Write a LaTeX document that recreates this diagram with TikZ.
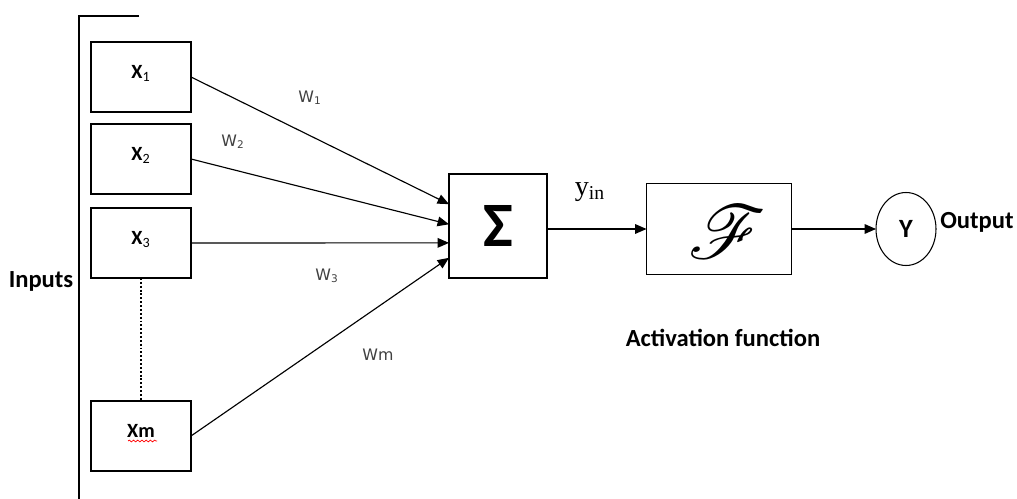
\documentclass[tikz,border=0pt]{standalone}
\usepackage{fontspec}
\setmainfont{Carlito}
\newfontfamily\wfont{DejaVu Sans}
\newfontfamily\timesfont{Liberation Serif}
\usepackage{mathrsfs}
\usetikzlibrary{positioning, arrows.meta, shapes.geometric, decorations.pathmorphing}

\tikzset{
  inbox/.style={draw, line width=0.75pt, minimum width=2cm, minimum height=1.4cm,
    inner sep=0pt, outer sep=0pt, text depth=6pt, font=\fontsize{11.5}{13}\selectfont\bfseries},
  sumbox/.style={draw, line width=0.75pt, minimum width=1.96cm, minimum height=2.08cm,
    inner sep=0pt, outer sep=0pt},
  actbox/.style={draw, line width=0.75pt, minimum width=2.9cm, minimum height=1.82cm,
    inner sep=0pt, outer sep=0pt},
  outcirc/.style={draw, ellipse, line width=0.6pt, minimum width=1.2cm, minimum height=1.46cm,
    inner sep=0pt, outer sep=0pt, font=\fontsize{15}{17}\selectfont\bfseries},
  wire/.style={line width=0.65pt},
  dotline/.style={line width=1.2pt, dash pattern=on 1.1pt off 1.1pt},
  weight/.style={font=\wfont\fontsize{9}{11}\selectfont, text=black!75},
  bigtext/.style={font=\fontsize{14}{16}\selectfont\bfseries}
}

\begin{document}
\begin{tikzpicture}[x=0.02cm, y=-0.02cm, >={Triangle[length=6.5pt, width=5.5pt]}]
  \useasboundingbox (0,0) rectangle (1017,499);

  % bracket round the inputs
  \draw[line width=0.75pt] (139,16) -- (79,16) -- (79,499);
  \node[bigtext] (inputs) at (41,281) {Inputs};

  % input boxes
  \node[inbox] (x1) at (141,77) {X\textsubscript{\mdseries 1}};
  \node[inbox] (x2) at (141,159) {X\textsubscript{\mdseries 2}};
  \node[inbox] (x3) at (141,243) {X\textsubscript{\mdseries 3}};
  \node[inbox] (xm) at (141,436) {Xm};
  \draw[dotline] (x3.south) -- (xm.north);
  \draw[red, line width=0.4pt, decorate,
    decoration={snake, amplitude=0.5pt, segment length=2.4pt}] (128,441) -- (157,441);

  % summing junction
  \node[sumbox] (sum) at (498,226) {\fontsize{36}{40}\selectfont\bfseries Σ};

  % weighted inputs
  \draw[wire, ->] (x1.east) -- (sum.156);
  \draw[wire, ->] (x2.east) -- (sum.178);
  \draw[wire, ->] (x3.east) -- (sum.199);
  \draw[wire, ->] (xm.east) -- (sum.213);

  % weight labels
  \node[weight] (w1) at (310,98) {W\textsubscript{1}};
  \node[weight] (w2) at (233,142) {W\textsubscript{2}};
  \node[weight] (w3) at (327,276) {W\textsubscript{3}};
  \node[weight] (wm) at (378,355) {Wm};

  % activation
  \node[actbox] (act) at (719,229) {};
  \node (f) at (727,232) {\scalebox{4.3}{$\mathscr{F}$}};
  \draw[wire, ->] (sum.east |- act.west) -- (act.west);
  \node[font=\timesfont\fontsize{16}{18}\selectfont] (yin) at (590,192) {y\textsubscript{in}};
  \node[bigtext] (actlabel) at (723,338) {Activation function};

  % output
  \node[outcirc] (out) at (906,229) {Y};
  \draw[wire, ->] (act.east) -- (out.west);
  \node[bigtext] (outlabel) at (977,222) {Output};
\end{tikzpicture}
\end{document}
